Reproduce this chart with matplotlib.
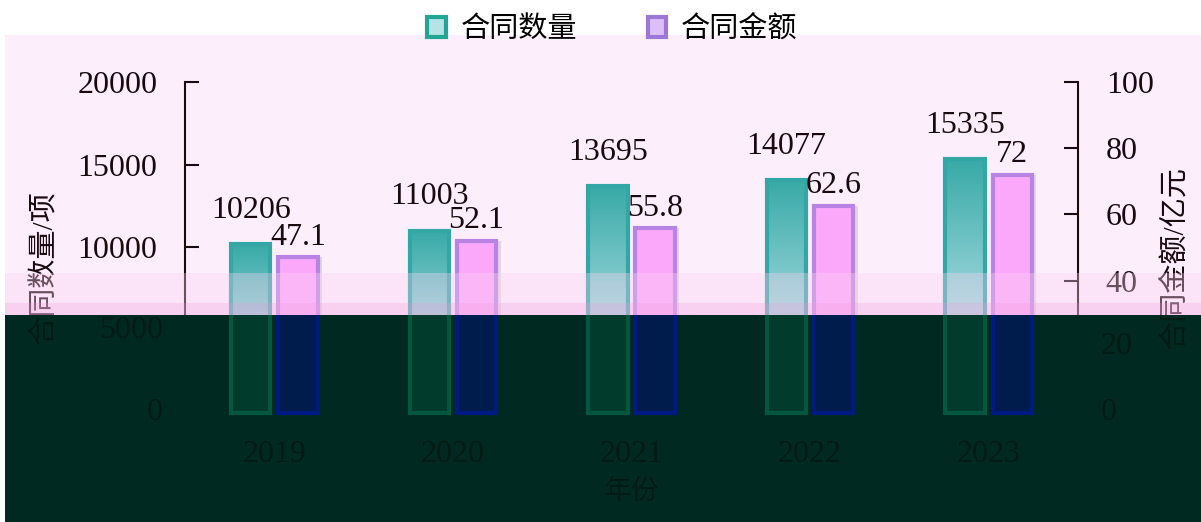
import numpy as np
import matplotlib.pyplot as plt
from matplotlib.patches import Rectangle, Patch
from matplotlib.colors import LinearSegmentedColormap
import matplotlib.transforms as mtransforms

# 数据
years = ['2019', '2020', '2021', '2022', '2023']
count = [10206, 11003, 13695, 14077, 15335]      # 合同数量/项
amount = [47.1, 52.1, 55.8, 62.6, 72]            # 合同金额/亿元
left_ticks = [0, 5000, 10000, 15000, 20000]
right_ticks = [0, 20, 40, 60, 80, 100]

plt.rcParams['font.family'] = ['Liberation Serif', 'Noto Sans CJK SC', 'DejaVu Sans']

W, H = 1201, 522
fig = plt.figure(figsize=(W / 100, H / 100), dpi=100)
fig.patch.set_facecolor('white')

# fondo rosa (zona superior)
cut = (H - 315) / H
fig.patches.append(Rectangle((5 / W, cut), 1, (315 - 35) / H, transform=fig.transFigure,
                             facecolor='#fdeefc', edgecolor='none', zorder=-1))

ax = fig.add_axes([185 / W, (H - 413) / H, (1078 - 185) / W, (413 - 82) / H])
ax.set_facecolor('none')
ax2 = ax.twinx()

x = np.arange(len(years))
w = 0.22
d = 0.132
fs = 23
ink = '#1a0a10'
dim = '#001a14'

# barras de cantidad con degradado
teal_cmap = LinearSegmentedColormap.from_list('teal', ['#38aaa7', '#8fd0d4', '#e0f4f7'])
grad = np.linspace(0, 1, 256).reshape(-1, 1)
bars = ax.bar(x - d, count, w, facecolor='none', edgecolor='#33a7a5', linewidth=3, zorder=3)
for b in bars:
    im = ax.imshow(grad, extent=[b.get_x(), b.get_x() + b.get_width(), 0, b.get_height()],
                   aspect='auto', cmap=teal_cmap, zorder=2, origin='upper')
    im.set_clip_path(b)
for i, v in enumerate(count):
    ax.annotate(str(v), (x[i] - d, v), xytext=(0, 14), textcoords='offset points',
                ha='center', va='bottom', fontsize=fs, color=ink)

# barras de monto
ax2.bar(x + d + 0.025, amount, w, color='#9a8a9a', alpha=0.25, zorder=1, linewidth=0)
ax2.bar(x + d, amount, w, color='#fba8fb', edgecolor='#b884e4', linewidth=3, zorder=2)
for i, v in enumerate(amount):
    ax2.annotate(str(v), (x[i] + d, v), xytext=(0, 4), textcoords='offset points',
                 ha='center', va='bottom', fontsize=fs, color=ink)

ax.set_xlim(-0.5, 4.5)
ax.set_ylim(0, 20000)
ax2.set_ylim(0, 100)
ax.set_yticks(left_ticks)
ax2.set_yticks(right_ticks)
# las etiquetas que caen en la zona oscura se dibujan aparte
ax.set_yticklabels(['', ''] + [str(t) for t in left_ticks[2:]])
ax2.set_yticklabels(['', ''] + [str(t) for t in right_ticks[2:]])
ax.set_xticks(x)
ax.set_xticklabels([])

for a in (ax, ax2):
    a.spines['top'].set_visible(False)
    a.spines['bottom'].set_visible(False)
    a.tick_params(axis='y', direction='in', length=10, width=1.5, pad=20,
                  labelsize=fs, colors=ink)
    a.tick_params(axis='x', length=0)
ax.spines['right'].set_visible(False)
ax2.spines['left'].set_visible(False)
ax.spines['left'].set_linewidth(1.5)
ax2.spines['right'].set_linewidth(1.5)
ax.spines['left'].set_color(ink)
ax2.spines['right'].set_color(ink)

# franjas rosas
ax2.add_artist(Rectangle((5 / W, (H - 303) / H), 1, 30 / H, transform=fig.transFigure,
                         facecolor='#fbd3f2', alpha=0.35, edgecolor='none', zorder=4, clip_on=False))
ax2.add_artist(Rectangle((5 / W, cut), 1, 12 / H, transform=fig.transFigure,
                         facecolor='#f7b6e6', alpha=0.5, edgecolor='none', zorder=4, clip_on=False))

# zona oscura inferior
dark = Rectangle((5 / W, 0), 1, cut, transform=fig.transFigure,
                 facecolor='#002a21', edgecolor='none', zorder=5, clip_on=False)
ax2.add_artist(dark)
clip = Rectangle((5 / W, 0), 1, cut, transform=fig.transFigure)
db1 = ax2.bar(x - d, np.array(count) / 200, w, color='#013b2c', edgecolor='#03573f',
              linewidth=3, zorder=6)
db2 = ax2.bar(x + d, amount, w, color='#001c4c', edgecolor='#001a82', linewidth=3, zorder=6)
for b in list(db1) + list(db2):
    b.set_clip_path(clip)

# títulos de eje: tinta arriba, versión apagada recortada a la zona oscura
ylabs = [('合同数量/项', -0.157, 0.44), ('合同金额/亿元', 1.108, 0.47)]
for txt, lx, ly in ylabs:
    ax2.text(lx, ly, txt, transform=ax.transAxes, rotation=90, ha='center', va='center',
             fontsize=21, color=ink, zorder=3, clip_on=False)
    t = ax2.text(lx, ly, txt, transform=ax.transAxes, rotation=90, ha='center', va='center',
                 fontsize=21, color=dim, zorder=7)
    t.set_clip_path(clip)
    t.set_clip_on(True)

# textos apenas visibles en la zona oscura
lt = mtransforms.blended_transform_factory(ax.transAxes, ax.transData)
for v in left_ticks[:2]:
    ax2.text(-0.025, v, str(v), transform=lt, ha='right', va='center',
             fontsize=fs, color=dim, zorder=7)
rt = mtransforms.blended_transform_factory(ax.transAxes, ax2.transData)
for v in right_ticks[:2]:
    ax2.text(1.025, v, str(v), transform=rt, ha='left', va='center',
             fontsize=fs, color=dim, zorder=7)
bt = mtransforms.blended_transform_factory(ax.transData, fig.transFigure)
for i, yr in enumerate(years):
    ax2.text(x[i], (H - 455) / H, yr, transform=bt, ha='center', va='center',
             fontsize=fs, color=dim, zorder=7)
ax2.text(2, (H - 492) / H, '年份', transform=bt, ha='center', va='center',
         fontsize=20, color=dim, zorder=7)

# leyenda
handles = [Patch(facecolor='#b6e3e6', edgecolor='#22a594', linewidth=3),
           Patch(facecolor='#dcc0f5', edgecolor='#9c78d4', linewidth=3)]
fig.legend(handles, ['合同数量', '合同金额'], loc='upper center', bbox_to_anchor=(0.51, 1.02),
           ncol=2, frameon=False, fontsize=21, handlelength=0.65, handleheight=0.65,
           columnspacing=2.4, handletextpad=0.5)

fig.savefig('out.png', dpi=100)
